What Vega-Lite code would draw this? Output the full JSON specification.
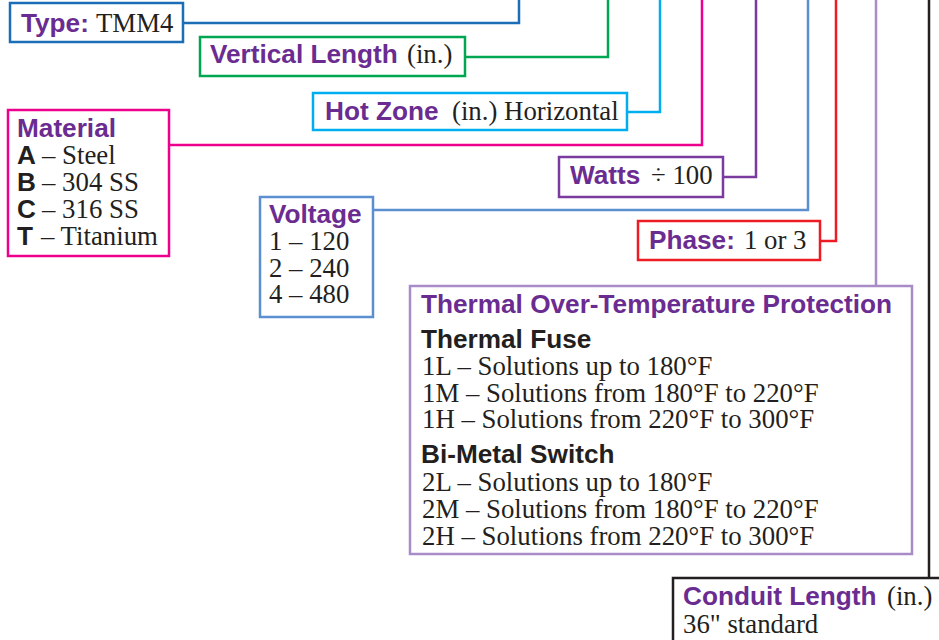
{
  "$schema": "https://vega.github.io/schema/vega-lite/v6.json",
  "width": 939,
  "height": 640,
  "padding": 0,
  "autosize": {"type": "none"},
  "background": "white",
  "config": {"view": {"stroke": null}},
  "datasets": {
    "boxes": [
      {"key": "type", "x1": 10, "y1": 3, "x2": 183, "y2": 42},
      {"key": "vertical", "x1": 200, "y1": 37, "x2": 465, "y2": 76},
      {"key": "hotzone", "x1": 313, "y1": 93, "x2": 627, "y2": 130},
      {"key": "material", "x1": 8, "y1": 110, "x2": 169, "y2": 256},
      {"key": "watts", "x1": 559, "y1": 157, "x2": 723, "y2": 197},
      {"key": "voltage", "x1": 260, "y1": 197, "x2": 373, "y2": 317},
      {"key": "phase", "x1": 638, "y1": 221, "x2": 820, "y2": 260},
      {"key": "thermal", "x1": 410, "y1": 286, "x2": 912, "y2": 554},
      {"key": "conduit", "x1": 673, "y1": 578, "x2": 950, "y2": 660}
    ],
    "links": [
      {"key": "type", "i": 0, "x": 183, "y": 23},
      {"key": "type", "i": 1, "x": 519, "y": 23},
      {"key": "type", "i": 2, "x": 519, "y": -5},
      {"key": "vertical", "i": 0, "x": 465, "y": 57},
      {"key": "vertical", "i": 1, "x": 608, "y": 57},
      {"key": "vertical", "i": 2, "x": 608, "y": -5},
      {"key": "hotzone", "i": 0, "x": 627, "y": 112},
      {"key": "hotzone", "i": 1, "x": 660, "y": 112},
      {"key": "hotzone", "i": 2, "x": 660, "y": -5},
      {"key": "material", "i": 0, "x": 169, "y": 145},
      {"key": "material", "i": 1, "x": 702, "y": 145},
      {"key": "material", "i": 2, "x": 702, "y": -5},
      {"key": "watts", "i": 0, "x": 723, "y": 177},
      {"key": "watts", "i": 1, "x": 756, "y": 177},
      {"key": "watts", "i": 2, "x": 756, "y": -5},
      {"key": "voltage", "i": 0, "x": 373, "y": 210},
      {"key": "voltage", "i": 1, "x": 808, "y": 210},
      {"key": "voltage", "i": 2, "x": 808, "y": -5},
      {"key": "phase", "i": 0, "x": 820, "y": 241},
      {"key": "phase", "i": 1, "x": 836, "y": 241},
      {"key": "phase", "i": 2, "x": 836, "y": -5},
      {"key": "thermal", "i": 0, "x": 876, "y": 286},
      {"key": "thermal", "i": 1, "x": 876, "y": -5},
      {"key": "conduit", "i": 0, "x": 929, "y": 578},
      {"key": "conduit", "i": 1, "x": 929, "y": -5}
    ],
    "labels": [
      {"kind": "head", "x": 21, "y": 32, "text": "Type:"},
      {"kind": "body", "x": 96, "y": 32, "text": "TMM4"},
      {"kind": "head", "x": 210, "y": 63, "text": "Vertical Length"},
      {"kind": "body", "x": 407, "y": 63, "text": "(in.)"},
      {"kind": "head", "x": 325, "y": 120, "text": "Hot Zone"},
      {"kind": "body", "x": 452, "y": 120, "text": "(in.) Horizontal"},
      {"kind": "head", "x": 17, "y": 137, "text": "Material"},
      {"kind": "sub", "x": 17, "y": 164, "text": "A"},
      {"kind": "body", "x": 42, "y": 164, "text": "– Steel"},
      {"kind": "sub", "x": 17, "y": 191, "text": "B"},
      {"kind": "body", "x": 42, "y": 191, "text": "– 304 SS"},
      {"kind": "sub", "x": 17, "y": 218, "text": "C"},
      {"kind": "body", "x": 42, "y": 218, "text": "– 316 SS"},
      {"kind": "sub", "x": 17, "y": 245, "text": "T"},
      {"kind": "body", "x": 41, "y": 245, "text": "– Titanium"},
      {"kind": "head", "x": 570, "y": 184, "text": "Watts"},
      {"kind": "body", "x": 651, "y": 184, "text": "÷ 100"},
      {"kind": "head", "x": 269, "y": 223, "text": "Voltage"},
      {"kind": "body", "x": 269, "y": 250, "text": "1 – 120"},
      {"kind": "body", "x": 269, "y": 277, "text": "2 – 240"},
      {"kind": "body", "x": 269, "y": 303, "text": "4 – 480"},
      {"kind": "head", "x": 649, "y": 249, "text": "Phase:"},
      {"kind": "body", "x": 744, "y": 249, "text": "1 or 3"},
      {"kind": "head", "x": 421, "y": 313, "text": "Thermal Over-Temperature Protection"},
      {"kind": "sub", "x": 421, "y": 348, "text": "Thermal Fuse"},
      {"kind": "body", "x": 422, "y": 375, "text": "1L – Solutions up to 180°F"},
      {"kind": "body", "x": 422, "y": 402, "text": "1M – Solutions from 180°F to 220°F"},
      {"kind": "body", "x": 422, "y": 428, "text": "1H – Solutions from 220°F to 300°F"},
      {"kind": "sub", "x": 421, "y": 463, "text": "Bi-Metal Switch"},
      {"kind": "body", "x": 422, "y": 491, "text": "2L – Solutions up to 180°F"},
      {"kind": "body", "x": 422, "y": 518, "text": "2M – Solutions from 180°F to 220°F"},
      {"kind": "body", "x": 422, "y": 545, "text": "2H – Solutions from 220°F to 300°F"},
      {"kind": "head", "x": 683, "y": 605, "text": "Conduit Length"},
      {"kind": "body", "x": 887, "y": 605, "text": "(in.)"},
      {"kind": "body", "x": 683, "y": 633, "text": "36\" standard"}
    ]
  },
  "layer": [
    {
      "data": {"name": "links"},
      "mark": {"type": "line", "strokeWidth": 2.5, "strokeJoin": "miter", "strokeCap": "butt", "clip": true},
      "encoding": {
        "x": {"field": "x", "type": "quantitative", "scale": {"domain": [0, 939], "nice": false, "zero": false}, "axis": null},
        "y": {"field": "y", "type": "quantitative", "scale": {"domain": [0, 640], "nice": false, "zero": false, "reverse": true}, "axis": null},
        "order": {"field": "i", "type": "quantitative"},
        "stroke": {
          "field": "key", "type": "nominal", "legend": null,
          "scale": {
            "domain": ["type", "vertical", "hotzone", "material", "watts", "voltage", "phase", "thermal", "conduit"],
            "range": ["#1b6db5", "#00a651", "#00aeef", "#ec008c", "#7b3a9e", "#5b8fcf", "#ed1c24", "#a98bc8", "#231f20"]
          }
        }
      }
    },
    {
      "data": {"name": "boxes"},
      "mark": {"type": "rect", "fill": "white", "strokeWidth": 2.5, "clip": true},
      "encoding": {
        "x": {"field": "x1", "type": "quantitative"},
        "x2": {"field": "x2"},
        "y": {"field": "y1", "type": "quantitative"},
        "y2": {"field": "y2"},
        "stroke": {"field": "key", "type": "nominal", "legend": null}
      }
    },
    {
      "data": {"name": "labels"},
      "transform": [{"filter": "datum.kind === 'head'"}],
      "mark": {"type": "text", "align": "left", "baseline": "alphabetic", "font": "Liberation Sans", "fontWeight": "bold", "fontSize": 26.2, "fill": "#6b2c91"},
      "encoding": {
        "x": {"field": "x", "type": "quantitative"},
        "y": {"field": "y", "type": "quantitative"},
        "text": {"field": "text"}
      }
    },
    {
      "data": {"name": "labels"},
      "transform": [{"filter": "datum.kind === 'sub'"}],
      "mark": {"type": "text", "align": "left", "baseline": "alphabetic", "font": "Liberation Sans", "fontWeight": "bold", "fontSize": 26.2, "fill": "#231f20"},
      "encoding": {
        "x": {"field": "x", "type": "quantitative"},
        "y": {"field": "y", "type": "quantitative"},
        "text": {"field": "text"}
      }
    },
    {
      "data": {"name": "labels"},
      "transform": [{"filter": "datum.kind === 'body'"}],
      "mark": {"type": "text", "align": "left", "baseline": "alphabetic", "font": "Liberation Serif", "fontSize": 26.8, "fill": "#231f20"},
      "encoding": {
        "x": {"field": "x", "type": "quantitative"},
        "y": {"field": "y", "type": "quantitative"},
        "text": {"field": "text"}
      }
    }
  ]
}
